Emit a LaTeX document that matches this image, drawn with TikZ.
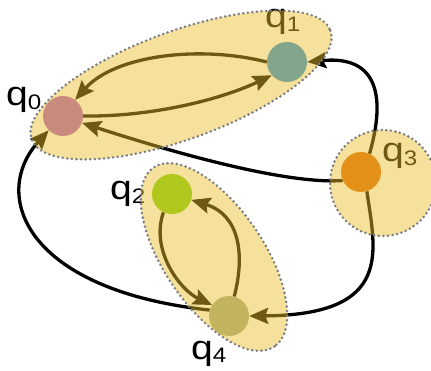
\documentclass[tikz,border=0pt]{standalone}
\usepackage{fontspec}
\setmainfont{Liberation Sans}[FakeStretch=1.15]
\usetikzlibrary{arrows.meta}

\pgfdeclarelayer{edges}
\pgfdeclarelayer{groups}
\pgfsetlayers{edges,groups,main}

\definecolor{groupfill}{RGB}{234,191,42}
\definecolor{groupdots}{RGB}{120,124,136}
\definecolor{qzero}{RGB}{201,139,126}
\definecolor{qone}{RGB}{130,165,140}
\definecolor{qtwo}{RGB}{176,200,30}
\definecolor{qthree}{RGB}{228,145,25}
\definecolor{qfour}{RGB}{194,179,95}

\newcommand{\qsub}[1]{q\raisebox{-4pt}{\fontsize{21}{22}\selectfont #1}}

\begin{document}
\begin{tikzpicture}[x=1pt,y=-1pt,
  state/.style={circle,minimum size=40pt,inner sep=0pt},
  slabel/.style={anchor=base west,inner sep=0pt,font=\fontsize{34}{36}\selectfont},
  link/.style={line width=3.3pt,-{Stealth[length=19pt,width=16pt,inset=3pt]}},
  group/.style={fill=groupfill,fill opacity=.47,draw=groupdots,line width=2.8pt,
    line cap=round,dash pattern=on 0pt off 4.6pt}
]
  \useasboundingbox (0,0) rectangle (431,371);

  % states
  \node[state,fill=qzero] (q0) at (63,116) {};
  \node[state,fill=qone] (q1) at (287,62) {};
  \node[state,fill=qtwo] (q2) at (172,194) {};
  \node[state,fill=qthree] (q3) at (361,172) {};
  \node[state,fill=qfour] (q4) at (229,316) {};

  \begin{pgfonlayer}{edges}
    \node[slabel] (q0lbl) at ([shift={(-57,-10)}]q0.center) {\qsub{0}};
    \node[slabel] (q1lbl) at ([shift={(-22,-34)}]q1.center) {\qsub{1}};
    \node[slabel] (q2lbl) at ([shift={(-62,6)}]q2.center) {\qsub{2}};
    \node[slabel] (q3lbl) at ([shift={(21,-10)}]q3.center) {\qsub{3}};
    \node[slabel] (q4lbl) at ([shift={(-38,43)}]q4.center) {\qsub{4}};

    \draw[link] (q1.180) .. controls (200,45) and (115,55) .. (q0.53);
    \draw[link] (q0.0) .. controls (150,117) and (220,100) .. (q1.221);
    \draw[link] (q3.205) .. controls (280,185) and (150,145) .. (q0.340);
    \draw[link] (q3.65) .. controls (385,100) and (380,55) .. (q1.0);
    \draw[link] (q3.287) .. controls (375,250) and (395,315) .. (q4.0);
    \draw[link] (q4.163) .. controls (25,290) and (-10,195) .. (q0.225);
    \draw[link] (q2.245) .. controls (150,250) and (180,290) .. (q4.147);
    \draw[link] (q4.75) .. controls (245,255) and (240,215) .. (q2.343);
  \end{pgfonlayer}

  % groups
  \begin{pgfonlayer}{groups}
    \draw[group,rotate around={20:(181,85)}] (181,85) ellipse [x radius=159,y radius=54];
    \draw[group,rotate around={-56:(214,257)}] (214,257) ellipse [x radius=108,y radius=50];
    \draw[group] (383,183) circle [radius=53];
  \end{pgfonlayer}
\end{tikzpicture}
\end{document}
